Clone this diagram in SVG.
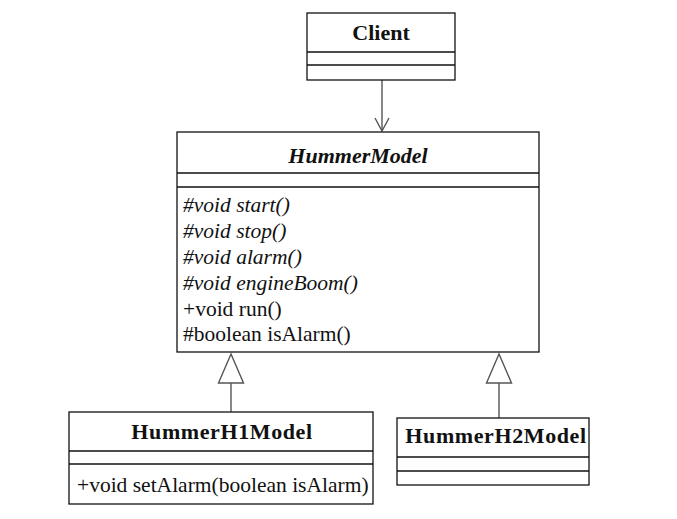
<svg xmlns="http://www.w3.org/2000/svg" width="677" height="519" viewBox="0 0 677 519">
<style>
.box{fill:#fff;stroke:#111;stroke-width:1.3}
.div{stroke:#111;stroke-width:1.3}
.t{font-family:"Liberation Serif","Times New Roman",serif;fill:#111}
.title{font-size:22px;font-weight:bold;text-anchor:middle}
.m{font-size:21.5px}
.i{font-style:italic}
.conn{stroke:#555;stroke-width:1.4;fill:none}
.tri{fill:#fff;stroke:#555;stroke-width:1.4}
</style>
<defs>
<marker id="open" markerWidth="16" markerHeight="16" refX="14" refY="8" orient="auto" markerUnits="userSpaceOnUse">
<path d="M1,1 L14,8 L1,15" fill="none" stroke="#555" stroke-width="1.4"/>
</marker>
</defs>
<rect width="677" height="519" fill="#fff"/>
<g id="connectors">
<line class="conn" x1="382" y1="80" x2="382" y2="131" marker-end="url(#open)"/>
<line class="conn" x1="231" y1="383" x2="231" y2="412"/>
<polygon class="tri" points="231,354 218.5,383 243.5,383"/>
<line class="conn" x1="499" y1="383" x2="499" y2="418"/>
<polygon class="tri" points="499,354 486.5,383 511.5,383"/>
</g>
<g id="Client">
<rect class="box" x="307" y="13" width="148" height="67"/>
<line class="div" x1="307" y1="52" x2="455" y2="52" stroke="#666"/>
<line class="div" x1="307" y1="65" x2="455" y2="65"/>
<text class="t title" x="381" y="40">Client</text>
</g>
<g id="HummerModel">
<rect class="box" x="177" y="132" width="362" height="220"/>
<line class="div" x1="177" y1="173" x2="539" y2="173"/>
<line class="div" x1="177" y1="187" x2="539" y2="187"/>
<text class="t title i" x="358" y="163">HummerModel</text>
<text class="t m i" x="183" y="212">#void start()</text>
<text class="t m i" x="183" y="238">#void stop()</text>
<text class="t m i" x="183" y="264">#void alarm()</text>
<text class="t m i" x="183" y="290">#void engineBoom()</text>
<text class="t m" x="183" y="316">+void run()</text>
<text class="t m" x="183" y="341">#boolean isAlarm()</text>
</g>
<g id="HummerH1Model">
<rect class="box" x="69" y="412" width="304" height="92"/>
<line class="div" x1="69" y1="451" x2="373" y2="451"/>
<line class="div" x1="69" y1="464" x2="373" y2="464"/>
<text class="t title" x="222" y="439" letter-spacing="0.6">HummerH1Model</text>
<text class="t m" x="77" y="492">+void setAlarm(boolean isAlarm)</text>
</g>
<g id="HummerH2Model">
<rect class="box" x="397" y="418" width="192" height="67"/>
<line class="div" x1="397" y1="457" x2="589" y2="457"/>
<line class="div" x1="397" y1="471" x2="589" y2="471"/>
<text class="t title" x="496" y="443" letter-spacing="0.6">HummerH2Model</text>
</g>
</svg>
